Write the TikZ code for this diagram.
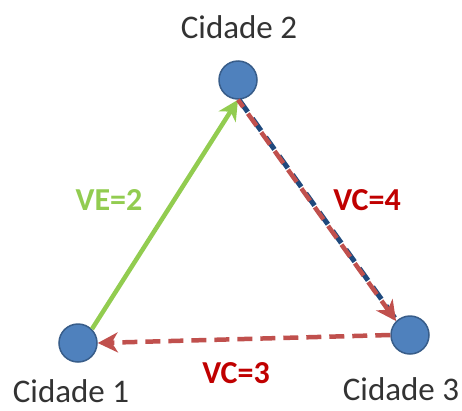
\documentclass[tikz,border=0pt]{standalone}
\usepackage{fontspec}
\setmainfont{Carlito}
\usetikzlibrary{arrows.meta}
\definecolor{cityblue}{RGB}{79,129,189}
\definecolor{cityedge}{RGB}{56,93,138}
\definecolor{vegreen}{RGB}{146,204,80}
\definecolor{vcred}{RGB}{192,80,77}
\definecolor{vcdark}{RGB}{31,73,125}
\definecolor{vctext}{RGB}{192,0,0}
\begin{document}
\begin{tikzpicture}[x=1pt,y=-1pt]
    \tikzset{city/.style={circle, fill=cityblue, draw=cityedge, line width=1.5pt, minimum size=38pt, inner sep=0pt}}
    \tikzset{citylabel/.style={font=\fontsize{33}{36}\selectfont, text=black!80, inner sep=1pt}}
    \tikzset{cost/.style={font=\fontsize{32}{36}\selectfont\bfseries, inner sep=1pt}}
    \tikzset{road/.style={line width=4.5pt, -{Stealth[length=20pt,width=20pt,inset=6pt]}}}
    \useasboundingbox (0,0) rectangle (462,410);
    \node[city] (c2) at (238,80) {};
    \node[city] (c1) at (78,343) {};
    \node[city] (c3) at (410,335) {};
    \node[citylabel] (n2) at (239,27) {Cidade 2}; %label
    \node[citylabel] (n1) at (71,391) {Cidade 1}; %label
    \node[citylabel] (n3) at (401,389) {Cidade 3}; %label
    \draw[road, vegreen] (c1.north east) -- (c2.south);
    \draw[line width=5pt, vcdark, dash pattern=on 15pt off 8pt] ([xshift=1pt]c2.south) -- ([xshift=1pt]c3.north west);
    \draw[road, vcred, dash pattern=on 15pt off 8pt, dash phase=6pt] (c2.south) -- (c3.north west);
    \draw[road, vcred, dash pattern=on 15pt off 8pt] (c3.west) -- (c1.east);
    \node[cost, text=vegreen] (ve) at (109,200) {VE=2}; %label
    \node[cost, text=vctext] (vc4) at (367,200) {VC=4}; %label
    \node[cost, text=vctext] (vc3) at (236,373) {VC=3}; %label
\end{tikzpicture}
\end{document}
